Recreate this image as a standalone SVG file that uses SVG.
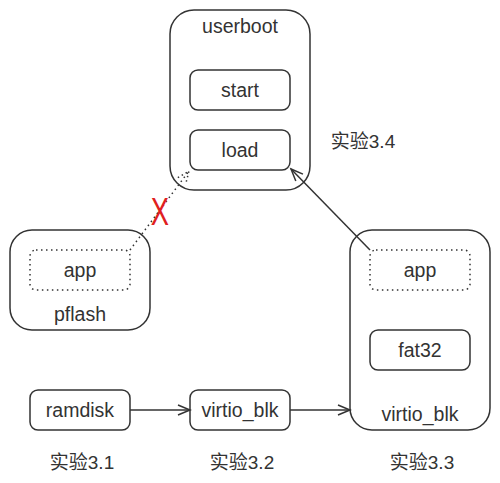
<svg xmlns="http://www.w3.org/2000/svg" width="500" height="483" viewBox="0 0 500 483">
<defs>
<marker id="open" markerUnits="userSpaceOnUse" markerWidth="16" markerHeight="16" refX="14" refY="8" orient="auto" overflow="visible">
<path d="M2,3 L14,8 L2,13" fill="none" stroke="#333" stroke-width="1.5"/>
</marker>
<marker id="opendot" markerUnits="userSpaceOnUse" markerWidth="16" markerHeight="16" refX="14" refY="8" orient="auto" overflow="visible">
<path d="M2,3 L14,8 L2,13" fill="none" stroke="#333" stroke-width="1.5" stroke-dasharray="1.5 3"/>
</marker>
</defs>
<style>
.box{fill:#fff;stroke:#333;stroke-width:1.5}
.dot{fill:#fff;stroke:#333;stroke-width:1.5;stroke-dasharray:1.5 3.5}
text{font-family:"Liberation Sans",Arial,sans-serif;font-size:19.5px;fill:#333;text-anchor:middle}
.cjk{font-family:"Liberation Sans","Noto Sans CJK SC",sans-serif;font-size:19px}
.edge{fill:none;stroke:#333;stroke-width:1.5}
</style>
<rect width="500" height="483" fill="#fff"/>
<g id="userboot">
<rect class="box" x="170" y="10" width="140" height="180" rx="24"/>
<text x="240" y="33">userboot</text>
</g>
<g id="start">
<rect class="box" x="190" y="70" width="100" height="40" rx="8"/>
<text x="240" y="97">start</text>
</g>
<g id="load">
<rect class="box" x="190" y="130" width="100" height="40" rx="8"/>
<text x="240" y="157">load</text>
</g>
<g id="pflash">
<rect class="box" x="10" y="230" width="140" height="100" rx="22"/>
<text x="80" y="321">pflash</text>
</g>
<g id="pflash_app">
<rect class="dot" x="30" y="250" width="100" height="40" rx="6"/>
<text x="80" y="277">app</text>
</g>
<g id="virtio_blk_dev">
<rect class="box" x="350" y="230" width="140" height="200" rx="22"/>
<text x="420" y="421">virtio_blk</text>
</g>
<g id="vb_app">
<rect class="dot" x="370" y="250" width="100" height="40" rx="6"/>
<text x="420" y="277">app</text>
</g>
<g id="fat32">
<rect class="box" x="370" y="330" width="100" height="40" rx="8"/>
<text x="420" y="357">fat32</text>
</g>
<g id="ramdisk">
<rect class="box" x="30" y="390" width="100" height="40" rx="8"/>
<text x="80" y="417">ramdisk</text>
</g>
<g id="virtio_blk_mid">
<rect class="box" x="190" y="390" width="100" height="40" rx="8"/>
<text x="240" y="417">virtio_blk</text>
</g>
<g id="connectors">
<line class="edge" x1="130" y1="410" x2="190" y2="410" marker-end="url(#open)"/>
<line class="edge" x1="290" y1="410" x2="350" y2="410" marker-end="url(#open)"/>
<line class="edge" x1="370" y1="250" x2="291" y2="169" marker-end="url(#open)"/>
<line class="edge" x1="130" y1="250" x2="189" y2="171" stroke-dasharray="1.5 3.5" marker-end="url(#opendot)"/>
</g>
<g id="labels">
<text class="cjk" x="363" y="148">实验3.4</text>
<text class="cjk" x="82" y="469">实验3.1</text>
<text class="cjk" x="242" y="469">实验3.2</text>
<text class="cjk" x="422" y="469">实验3.3</text>
<text transform="translate(160,225) scale(0.72,1)" style="font-size:38px;fill:#e02020">X</text>
</g>
</svg>
